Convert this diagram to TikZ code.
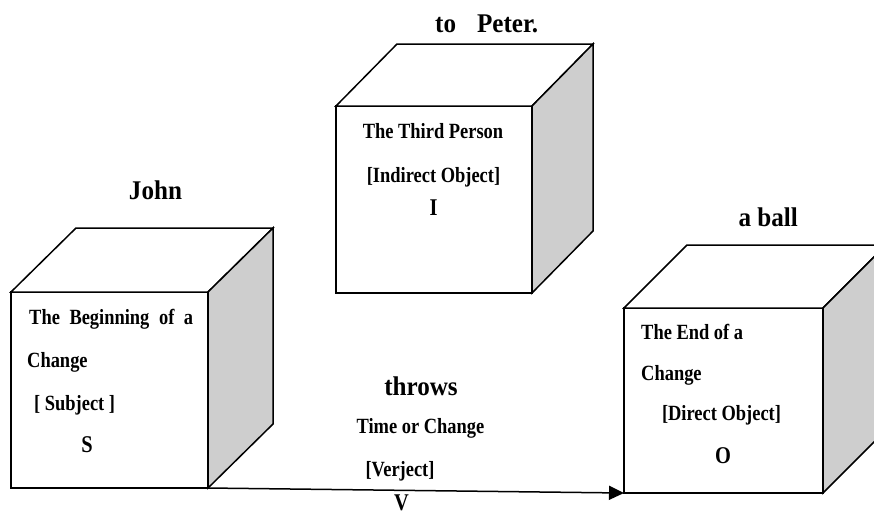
\documentclass[tikz,border=0pt]{standalone}
\usepackage{fontspec}
\setmainfont{Liberation Serif}
\newfontfamily\condfont{Liberation Serif}[FakeStretch=0.85]
\newfontfamily\titlefont{Liberation Serif}[FakeStretch=0.93]
\usetikzlibrary{arrows.meta}
\definecolor{sidegray}{RGB}{206,206,206}
\tikzset{
  cubeline/.style={draw=black, line width=1.5pt, line join=miter},
  frontface/.style={cubeline, fill=white, inner sep=0pt, outer sep=0pt},
  title/.style={inner sep=0pt, font=\titlefont\fontsize{27}{27}\selectfont\bfseries},
  boxtext/.style={inner sep=0pt, font=\condfont\fontsize{21.7}{21.7}\selectfont\bfseries},
  letter/.style={inner sep=0pt, font=\condfont\fontsize{24}{24}\selectfont\bfseries},
  flow/.style={line width=1.5pt, -{Triangle[length=15pt,width=14pt]}}
}
\begin{document}
\begin{tikzpicture}[x=1pt,y=-1pt]
\useasboundingbox (0,0) rectangle (874,515);
\clip (0,0) rectangle (874,515);
% left cube (Subject)
\node[frontface, minimum width=197pt, minimum height=196pt] (S) at (109.5,390) {};
\draw[cubeline, fill=white] (S.north west) -- ++(65,-64) -- ++(197,0) -- (S.north east) -- cycle;
\draw[cubeline, fill=sidegray] (S.north east) -- ++(65,-64) -- ++(0,196) -- (S.south east) -- cycle;
% middle cube (Indirect object)
\node[frontface, minimum width=196pt, minimum height=187pt] (I) at (434,199.5) {};
\draw[cubeline, fill=white] (I.north west) -- ++(61,-62) -- ++(196,0) -- (I.north east) -- cycle;
\draw[cubeline, fill=sidegray] (I.north east) -- ++(61,-62) -- ++(0,187) -- (I.south east) -- cycle;
% right cube (Direct object)
\node[frontface, minimum width=199pt, minimum height=185pt] (O) at (723.5,400.5) {};
\draw[cubeline, fill=white] (O.north west) -- ++(63,-63) -- ++(199,0) -- (O.north east) -- cycle;
\draw[cubeline, fill=sidegray] (O.north east) -- ++(63,-63) -- ++(0,185) -- (O.south east) -- cycle;
% connector
\draw[flow] (S.south east) -- (O.south west);
% titles
\node[title, anchor=base] (john) at (155.5,199) {John};
\node[title, anchor=base west] (peter) at (435,32) {to\hspace{21pt}Peter.};
\node[title, anchor=base east] (ball) at (798,226) {a ball};
\node[title, anchor=base] (throws) at (421,395) {throws};
% left cube text
\node[boxtext, anchor=base west] (s1) at (29,324) {\makebox[164pt][s]{The Beginning of a}};
\node[boxtext, anchor=base west] (s2) at (27,367) {Change};
\node[boxtext, anchor=base west] (s3) at (34,410) {[ Subject ]};
\node[letter, anchor=base] (s4) at (87,452) {S};
% middle cube text
\node[boxtext, anchor=base] (i1) at (433,138) {The Third Person};
\node[boxtext, anchor=base] (i2) at (433.5,182) {[Indirect Object]};
\node[letter, anchor=base] (i3) at (433.5,215) {I};
% right cube text
\node[boxtext, anchor=base west] (o1) at (641,339) {The End of a};
\node[boxtext, anchor=base west] (o2) at (641,380) {Change};
\node[boxtext, anchor=base] (o3) at (721.5,420) {[Direct Object]};
\node[letter, anchor=base] (o4) at (723,463) {O};
% verb text
\node[boxtext, anchor=base] (v1) at (420.5,433) {Time or Change};
\node[boxtext, anchor=base] (v2) at (400,476) {[Verject]};
\node[letter, anchor=base] (v3) at (401.5,510) {V};
\end{tikzpicture}
\end{document}
